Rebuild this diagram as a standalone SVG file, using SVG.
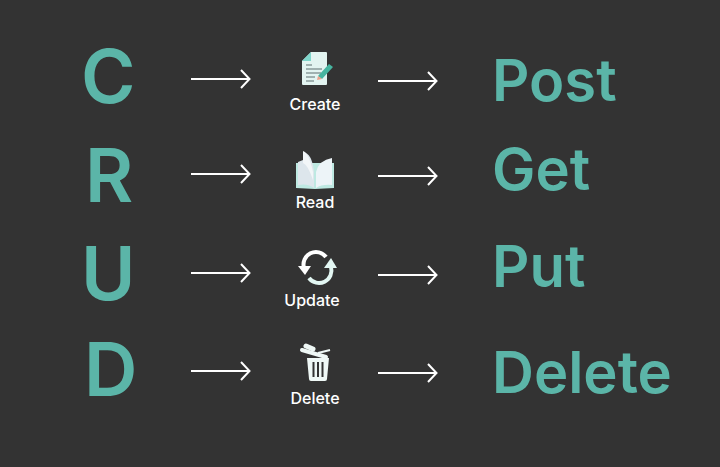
<svg xmlns="http://www.w3.org/2000/svg" width="720" height="467" viewBox="0 0 720 467">
<style>
.big{font-family:Inter,"Liberation Sans",sans-serif;font-weight:600;fill:#5BB5A8}
.l{font-size:74px}
.m{font-size:58px}
.c{font-family:Inter,"Liberation Sans",sans-serif;font-weight:500;font-size:16px;fill:#fff;text-anchor:middle}
.a{fill:none;stroke:#fff;stroke-width:2}
</style>
<defs>
<g id="arr"><path class="a" d="M0 0H58M50 -9L58.500 0L50 9"/></g>
</defs>
<rect width="720" height="467" fill="#333"/>
<g id="connectors">
<use href="#arr" x="191" y="79"/><use href="#arr" x="378" y="81"/>
<use href="#arr" x="191" y="174"/><use href="#arr" x="378" y="176"/>
<use href="#arr" x="191" y="273"/><use href="#arr" x="378" y="275"/>
<use href="#arr" x="191" y="371"/><use href="#arr" x="378" y="373"/>
</g>
<g id="letter-c"><text class="big l" x="81" y="103">C</text></g>
<g id="letter-r"><text class="big l" x="85" y="202">R</text></g>
<g id="letter-u"><text class="big l" x="81" y="300">U</text></g>
<g id="letter-d"><text class="big l" x="84" y="396">D</text></g>
<g id="create">
<path d="M311 52H326Q327 52 327 53V84Q327 85 326 85H303Q302 85 302 84V61Z" fill="#E3F4F1"/>
<path d="M311 52V61H302Z" fill="#7FD6CB"/>
<path d="M306 65H312M306 69H322M306 73H321M306 77H315M306 81H314" stroke="#5F6F70" stroke-width="1.200" fill="none"/>
<path d="M318 76L329 64L333 67L322 79Z" fill="#47B5A0"/>
<path d="M318 76L322 79L317 80Z" fill="#F0A08A"/>
<text class="c" x="315" y="110">Create</text>
</g>
<g id="read">
<path d="M296 163H334V188L315 189L296 188Z" fill="#BEE9E2"/>
<path d="M298 162L303 160L303 152Q312 153 314 172V188Q308 183 298 185Z" fill="#DDE6EC"/>
<path d="M316 172Q319 160 332 158V185Q322 184 316 188Z" fill="#EDF4F8"/>
<path d="M303 151Q309 153 313 172L313 180Q308 165 303 163Z" fill="#F2F6F8"/>
<text class="c" x="315" y="208">Read</text>
</g>
<g id="update">
<path d="M304 268A12.500 12.500 0 0 1 326 257" fill="none" stroke="#fff" stroke-width="4"/>
<path d="M331 267A12.500 12.500 0 0 1 309 278" fill="none" stroke="#E3F7F3" stroke-width="4"/>
<path d="M298 266H311L305 275Z" fill="#fff"/>
<path d="M324 268H337L331 258Z" fill="#E3F7F3"/>
<text class="c" x="312" y="306">Update</text>
</g>
<g id="delete">
<path d="M307 358H329L327 379Q327 381 325 381H311Q309 381 309 379Z" fill="#EFF8F6"/>
<path d="M313.500 362V377M318 362V377M322.500 362V377" stroke="#333" stroke-width="2"/>
<path d="M302 350L326 357" stroke="#EFF8F6" stroke-width="4" stroke-linecap="round"/>
<path d="M306 346L313 349" stroke="#EFF8F6" stroke-width="5" stroke-linecap="round"/>
<path d="M318 353L330 350" stroke="#EFF8F6" stroke-width="2"/>
<text class="c" x="315" y="404">Delete</text>
</g>
<g id="post"><text class="big m" x="492" y="101">Post</text></g>
<g id="get"><text class="big m" x="492" y="190">Get</text></g>
<g id="put"><text class="big m" x="492" y="287">Put</text></g>
<g id="delete-verb"><text class="big m" x="492" y="393">Delete</text></g>
</svg>
